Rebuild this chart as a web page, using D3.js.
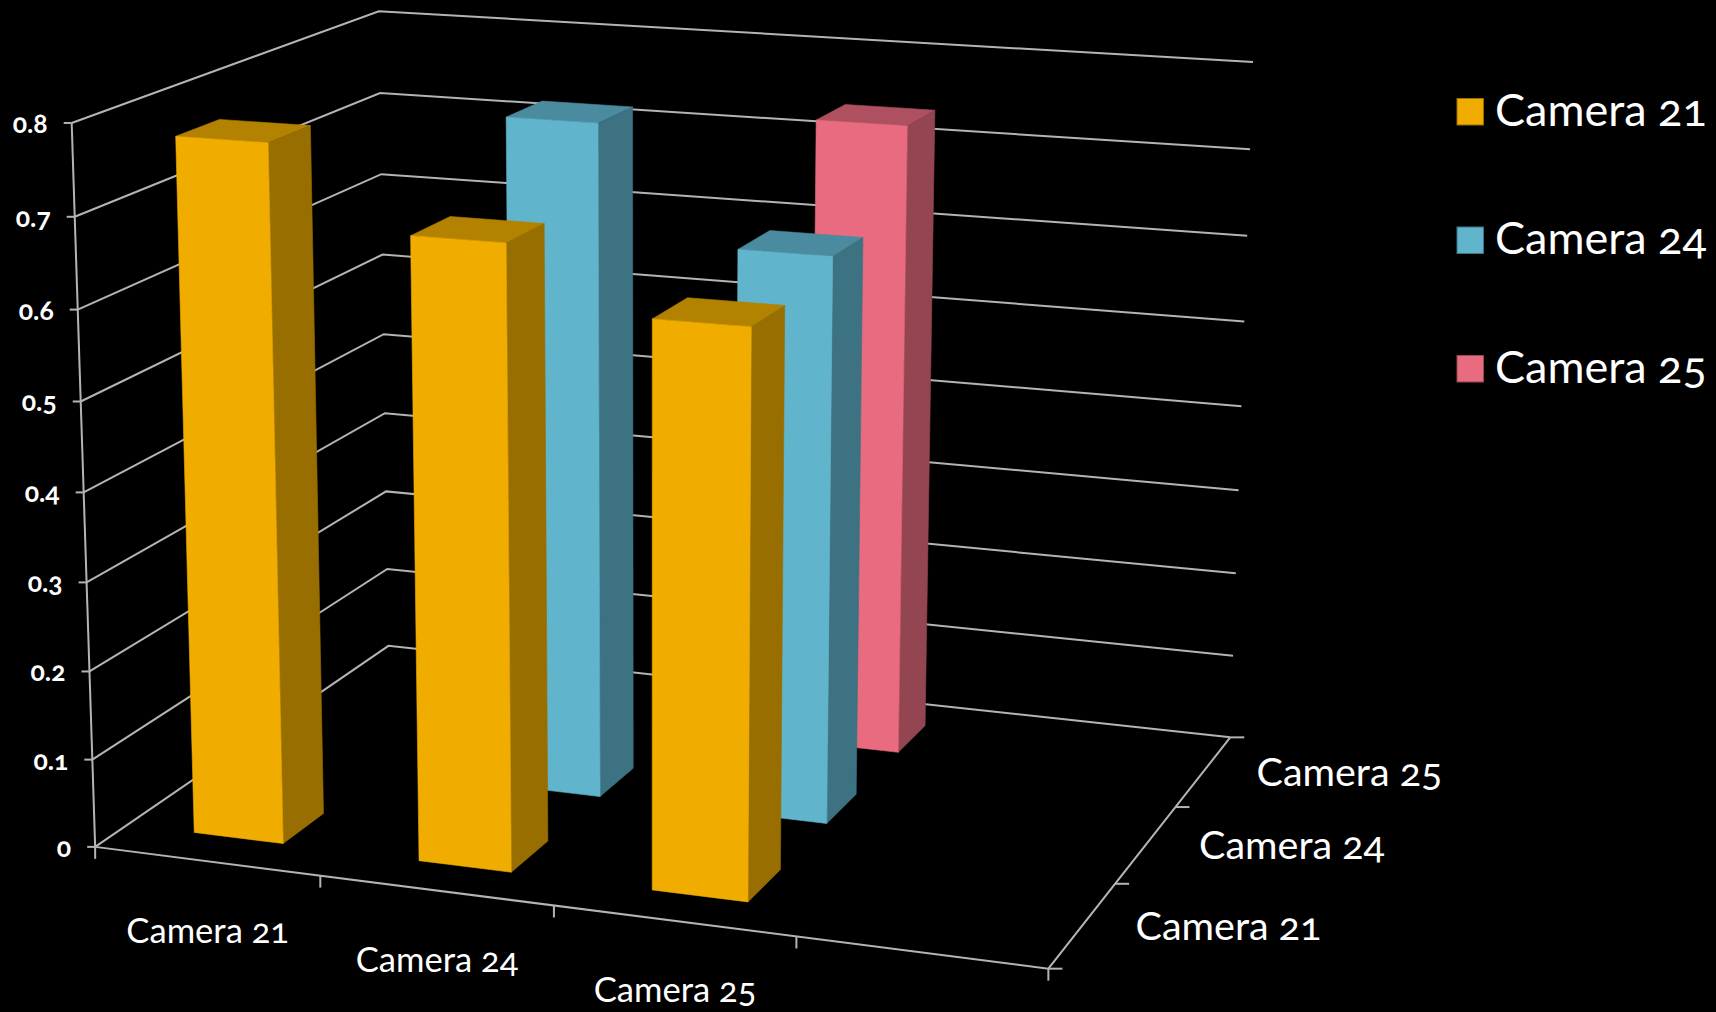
<!DOCTYPE html>
<html>
<head>
<meta charset="utf-8">
<script src="https://cdn.jsdelivr.net/npm/d3@7"></script>
<style>
html,body{margin:0;padding:0;background:#000;}
svg{display:block;}
text{font-family:Lato,"Open Sans","Noto Sans",sans-serif;fill:#fff;font-variant-numeric:oldstyle-nums;font-feature-settings:"onum" 1;}
</style>
</head>
<body>
<svg id="chart" width="1716" height="1012"></svg>
<script>
// ---- data ----
const xCategories = ["Camera 21", "Camera 24", "Camera 25", ""];
const depthCategories = ["Camera 21", "Camera 24", "Camera 25"];
const camera21Values = [0.777, 0.689, 0.621, null];
const camera24Values = [null, 0.769, 0.641, null];
const camera25Values = [null, null, 0.737, null];
const yTicks = [0, 0.1, 0.2, 0.3, 0.4, 0.5, 0.6, 0.7, 0.8];
const yTickLabels = ["0", "0.1", "0.2", "0.3", "0.4", "0.5", "0.6", "0.7", "0.8"];
const seriesValues = [camera21Values, camera24Values, camera25Values];
const frontColors = ["#f0ad00", "#60b5cc", "#e86b7f"];
const sideColors = ["#996e00", "#3d7282", "#934551"];
const topColors = ["#b38200", "#4a8b9f", "#ae505f"];

// ---- scales: value / category -> unit cube ----
const xScale = d3.scaleBand().domain(xCategories).range([0, 1]).paddingInner(0.6).paddingOuter(0.3);
const zScale = d3.scaleBand().domain(depthCategories).range([0, 1]).paddingInner(0.6).paddingOuter(0.3);
const yScale = d3.scaleLinear().domain([0, 0.8]).range([0, 1]);

// ---- perspective camera, calibrated on the picture's axis frame ----
const calibration = [
  [0, 0, 0, 95.7, 847], [1, 0, 0, 1048, 967.7], [1, 0, 1, 1230, 737], [0, 0, 1, 388.5, 645.7],
  [0, 1, 0, 71.8, 123.3], [0, 1, 1, 377.9, 11.7], [1, 1, 1, 1253, 62.4],
  [0.25, 0, 0, 320.7, 876.7], [0.5, 0, 0, 553.6, 906], [0.75, 0, 0, 795.6, 939],
  [1, 0, 1/3, 1115, 882.7], [1, 0, 2/3, 1175.7, 805.7],
  [1, 0.5, 1, 1243, 407], [0, 0.5, 0, 84, 489],
  [0.175, 0, 0.1, 284, 844], [0.175, 0, 0.2333, 323, 814], [0.675, 0, 0.1, 748, 902],
  [0.675, 0, 0.2333, 780, 870], [0.675, 0, 0.9, 925, 725.7], [0.675, 0, 0.7667, 898, 752]
];
function fitCamera(pts) {
  const n = 11, A = Array.from({length: n}, () => new Array(n + 1).fill(0));
  const add = (r, b) => { for (let i = 0; i < n; i++) { for (let j = 0; j < n; j++) A[i][j] += r[i] * r[j]; A[i][n] += r[i] * b; } };
  pts.forEach(([X, Y, Z, u, v]) => {
    u /= 1000; v /= 1000;
    add([X, Y, Z, 1, 0, 0, 0, 0, -u * X, -u * Y, -u * Z], u);
    add([0, 0, 0, 0, X, Y, Z, 1, -v * X, -v * Y, -v * Z], v);
  });
  for (let c = 0; c < n; c++) {
    let p = c; for (let r = c + 1; r < n; r++) if (Math.abs(A[r][c]) > Math.abs(A[p][c])) p = r;
    [A[c], A[p]] = [A[p], A[c]];
    for (let r = 0; r < n; r++) if (r !== c) {
      const f = A[r][c] / A[c][c];
      for (let k = c; k <= n; k++) A[r][k] -= f * A[c][k];
    }
  }
  return A.map((row, i) => row[n] / row[i]);
}
const cam = fitCamera(calibration);
function project(X, Y, Z) {
  const w = cam[8] * X + cam[9] * Y + cam[10] * Z + 1;
  return [1000 * (cam[0] * X + cam[1] * Y + cam[2] * Z + cam[3]) / w,
          1000 * (cam[4] * X + cam[5] * Y + cam[6] * Z + cam[7]) / w];
}
const svg = d3.select("#chart");
svg.append("rect").attr("width", 1716).attr("height", 1012).attr("fill", "#000");
const lineGen = d3.line();
const lineColor = "#b4b4b4";
const frame = svg.append("g").attr("fill", "none").attr("stroke", lineColor).attr("stroke-width", 2);
const poly3 = pts => lineGen(pts.map(p => project(...p)));

// walls gridlines
frame.selectAll("path.grid").data(yTicks).join("path").attr("class", "grid")
  .attr("d", v => poly3([[0, yScale(v), 0], [0, yScale(v), 1], [1, yScale(v), 1]]));
// axes
frame.append("path").attr("d", poly3([[0, 0, 0], [0, 1, 0]]));
frame.append("path").attr("d", poly3([[0, 0, 0], [1, 0, 0], [1, 0, 1]]));
// y ticks
frame.selectAll("path.ytick").data(yTicks).join("path").attr("class", "ytick")
  .attr("d", v => { const [x, y] = project(0, yScale(v), 0); return lineGen([[x - 8, y], [x, y]]); });
// x ticks
const xStep = xScale.step();
frame.selectAll("path.xtick").data(d3.range(5)).join("path").attr("class", "xtick")
  .attr("d", i => { const [x, y] = project(i * xStep, 0, 0); return lineGen([[x, y], [x, y + 12]]); });
// z ticks
const zStep = zScale.step();
frame.selectAll("path.ztick").data(d3.range(4)).join("path").attr("class", "ztick")
  .attr("d", i => { const [x, y] = project(1, 0, i * zStep); return lineGen([[x, y], [x + 14, y]]); });

// bars, back row first
const bars = [];
seriesValues.forEach((vals, s) => vals.forEach((v, c) => { if (v != null) bars.push({s, c, v}); }));
bars.sort((a, b) => b.s - a.s || a.c - b.c);
const barG = svg.selectAll("g.bar").data(bars).join("g").attr("class", "bar");
function face(sel, colors, corners) {
  sel.append("path")
    .attr("fill", d => colors[d.s]).attr("stroke", d => colors[d.s]).attr("stroke-width", 0.6)
    .attr("d", d => {
      const x0 = xScale(xCategories[d.c]), x1 = x0 + xScale.bandwidth();
      const z0 = zScale(depthCategories[d.s]), z1 = z0 + zScale.bandwidth();
      const h = yScale(d.v);
      return lineGen(corners(x0, x1, z0, z1, h).map(p => project(...p))) + "Z";
    });
}
face(barG, topColors, (x0, x1, z0, z1, h) => [[x0, h, z0], [x1, h, z0], [x1, h, z1], [x0, h, z1]]);
face(barG, sideColors, (x0, x1, z0, z1, h) => [[x1, 0, z0], [x1, h, z0], [x1, h, z1], [x1, 0, z1]]);
face(barG, frontColors, (x0, x1, z0, z1, h) => [[x0, 0, z0], [x1, 0, z0], [x1, h, z0], [x0, h, z0]]);

// y labels
svg.selectAll("text.ylab").data(yTicks).join("text").attr("class", "ylab")
  .attr("text-anchor", "end").attr("font-size", 26.5).attr("font-weight", 700)
  .attr("x", v => project(0, yScale(v), 0)[0] - 24)
  .attr("y", v => project(0, yScale(v), 0)[1] + 10)
  .text((v, i) => yTickLabels[i]);
// x labels
svg.selectAll("text.xlab").data(xCategories.filter(d => d)).join("text").attr("class", "xlab")
  .attr("text-anchor", "middle").attr("font-size", 34.6)
  .attr("x", d => project(xScale(d) + xScale.bandwidth() / 2, 0, 0)[0] + 1)
  .attr("y", d => project(xScale(d) + xScale.bandwidth() / 2, 0, 0)[1] + 81.5)
  .text(d => d);
// z labels
svg.selectAll("text.zlab").data(depthCategories).join("text").attr("class", "zlab")
  .attr("font-size", 39.5)
  .attr("x", d => project(1, 0, zScale(d) + zScale.bandwidth() / 2)[0] + 53)
  .attr("y", d => project(1, 0, zScale(d) + zScale.bandwidth() / 2)[1] + 15)
  .text(d => d);
// legend
const legendY = d3.scalePoint().domain(depthCategories).range([111.5, 368.5]);
const legend = svg.selectAll("g.leg").data(depthCategories).join("g").attr("class", "leg")
  .attr("transform", d => `translate(0,${legendY(d)})`);
legend.append("rect").attr("x", 1457).attr("y", -13).attr("width", 26.5).attr("height", 26.5)
  .attr("fill", (d, i) => frontColors[i]).attr("stroke", (d, i) => sideColors[i]).attr("stroke-width", 1);
legend.append("text").attr("x", 1495).attr("y", 14).attr("font-size", 45).text(d => d);
</script>
</body>
</html>
